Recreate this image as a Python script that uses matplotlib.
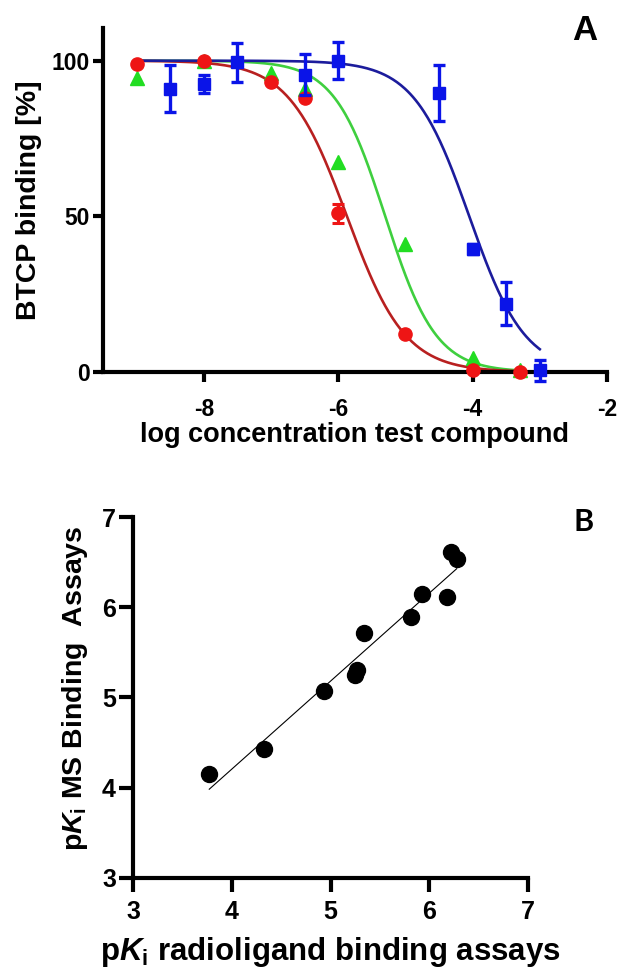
import matplotlib
matplotlib.use('Agg')
import matplotlib.pyplot as plt
import numpy as np

plt.rcParams.update({
    'font.family': 'Liberation Sans',
    'font.weight': 'bold',
    'axes.labelweight': 'bold',
    'axes.unicode_minus': False,
    'mathtext.fontset': 'custom',
    'mathtext.rm': 'Liberation Sans:bold',
    'mathtext.it': 'Liberation Sans:italic:bold',
    'mathtext.bf': 'Liberation Sans:bold',
})

# ---- panel A: competition curves ----
red_x = [-9, -8, -7, -6.5, -6, -5, -4, -3.3]
red_y = [99, 100, 93, 88, 51, 12.3, 0.5, 0]
red_err = [0, 0, 0, 0, 3, 0, 0, 0]

green_x = [-9, -8, -7, -6.5, -6, -5, -4, -3.3]
green_y = [94.5, 100, 96, 91, 67.5, 41, 4.5, 0.5]

blue_x = [-8.5, -8, -7.5, -6.5, -6, -4.5, -4, -3.5, -3]
blue_y = [91, 92.5, 99.5, 95.5, 100, 89.5, 39.5, 22, 0.5]
blue_err = [7.5, 3, 6.3, 6.5, 6, 9, 1.5, 6.8, 3.5]

# fitted sigmoid parameters (logIC50, Hill slope)
red_fit = (-5.87, 1.0)
green_fit = (-5.3, 1.15)
blue_fit = (-4.05, 1.05)

# ---- panel B: pKi correlation ----
pki_radio = [3.77, 4.33, 4.93, 5.25, 5.27, 5.34, 5.82, 5.93, 6.18, 6.22, 6.28]
pki_ms = [4.15, 4.43, 5.07, 5.25, 5.30, 5.71, 5.89, 6.15, 6.11, 6.61, 6.53]

RED = '#ee1515'
RED_LINE = '#b82020'
GREEN = '#22dd22'
GREEN_LINE = '#3fcf3f'
BLUE = '#0a14e8'
BLUE_LINE = '#1c1c9c'


def hill(x, logic50, n):
    return 100.0 / (1.0 + 10 ** ((x - logic50) * n))


def style_axes(ax, ticklen, labelsize, pad_x, pad_y):
    for s in ['top', 'right']:
        ax.spines[s].set_visible(False)
    for s in ['left', 'bottom']:
        ax.spines[s].set_linewidth(3.0)
    ax.tick_params(axis='both', width=3.0, length=ticklen, labelsize=labelsize,
                   direction='out')
    ax.tick_params(axis='x', pad=pad_x)
    ax.tick_params(axis='y', pad=pad_y)


fig = plt.figure(figsize=(6.17, 9.68), dpi=100)

# Panel A
axA = fig.add_axes([0.1669, 0.6157, 0.8169, 0.3554])
xmin = min(red_x + green_x + blue_x)
for xs, ys, fit, col in [(green_x, green_y, green_fit, GREEN_LINE),
                         (red_x, red_y, red_fit, RED_LINE),
                         (blue_x, blue_y, blue_fit, BLUE_LINE)]:
    xx = np.linspace(xmin, max(xs), 300)
    axA.plot(xx, hill(xx, *fit), color=col, lw=1.9, zorder=2, clip_on=False)

axA.plot(green_x, green_y, '^', color=GREEN, ms=9.5, mec=GREEN, zorder=3, clip_on=False)
axA.plot(red_x, red_y, 'o', color=RED, ms=9.5, mec=RED, zorder=4, clip_on=False)
re = np.array(red_err)
m = re > 0
axA.errorbar(np.array(red_x)[m], np.array(red_y)[m], yerr=re[m], fmt='none',
             ecolor=RED, elinewidth=2.2, capsize=4, capthick=2.2, zorder=4)
axA.errorbar(blue_x, blue_y, yerr=blue_err, fmt='s', color=BLUE, ms=9,
             ecolor=BLUE, elinewidth=2.4, capsize=4.5, capthick=2.4, zorder=5,
             clip_on=False)

axA.set_xlim(-9.5, -2)
axA.set_ylim(0, 110.5)
axA.set_xticks([-8, -6, -4, -2])
axA.set_yticks([0, 50, 100])
style_axes(axA, 7, 16.5, 12, 2.5)
axA.set_xlabel('log concentration test compound', fontsize=19.5)
axA.set_ylabel('BTCP binding [%]', fontsize=20.5)
axA.xaxis.set_label_coords(0.5, -0.145)
axA.yaxis.set_label_coords(-0.121, 0.5)
fig.text(0.947, 0.968, 'A', fontsize=25, fontweight='bold', ha='center', va='center')

# Panel B
axB = fig.add_axes([0.2161, 0.0930, 0.6392, 0.3729])
coef = np.polyfit(pki_radio, pki_ms, 1)
xl = np.array([min(pki_radio), max(pki_radio)])
axB.plot(xl, np.polyval(coef, xl), color='black', lw=0.8, zorder=2)
axB.plot(pki_radio, pki_ms, 'o', color='black', ms=11.5, zorder=3)
axB.set_xlim(3, 7)
axB.set_ylim(3, 7)
axB.set_xticks([3, 4, 5, 6, 7])
axB.set_yticks([3, 4, 5, 6, 7])
style_axes(axB, 10, 18, 6, 2.5)
axB.set_xlabel(r'p$\mathit{K}_{\mathrm{i}}$ radioligand binding assays', fontsize=22.5)
axB.set_ylabel(r'p$\mathit{K}_{\mathrm{i}}$ MS Binding  Assays', fontsize=20.5)
axB.xaxis.set_label_coords(0.5, -0.158)
axB.yaxis.set_label_coords(-0.11, 0.525)
fig.text(0.945, 0.461, 'B', fontsize=22, fontweight='bold', family='Lato',
         ha='center', va='center')

fig.savefig('out.png', dpi=100, facecolor='white')
